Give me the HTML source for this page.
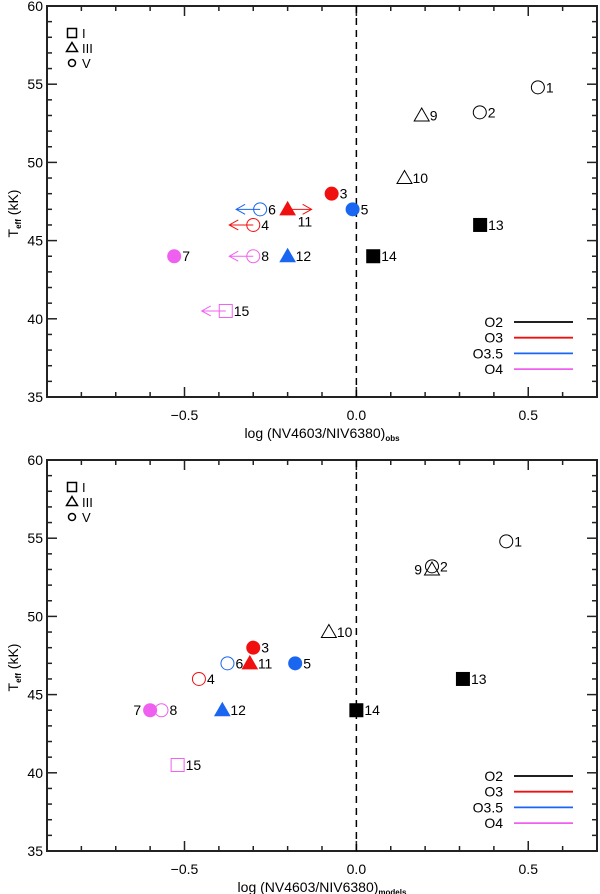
<!DOCTYPE html>
<html><head><meta charset="utf-8"><style>
body{margin:0;background:#fff;}
svg{display:block;font-family:"Liberation Sans",sans-serif;}
</style></head><body>
<svg id="c" width="600" height="894"></svg>
<script>
const starIds=[1,2,3,4,5,6,7,8,9,10,11,12,13,14,15];
const obsX=[0.528,0.359,-0.072,-0.30,-0.011,-0.28,-0.53,-0.30,0.19,0.14,-0.20,-0.20,0.36,0.049,-0.38];
const modX=[0.436,0.22,-0.30,-0.458,-0.178,-0.375,-0.60,-0.567,0.22,-0.08,-0.31,-0.39,0.31,0.0,-0.52];
const teffVals=[54.8,53.2,48,46,47,47,44,44,53,49,47,44,46,44,40.5];
const shapes=['c','c','c','c','c','c','c','c','t','t','t','t','s','s','s'];
const filled=[0,0,1,0,1,0,1,0,0,0,1,1,1,1,0];
const sptype=['O2','O2','O3','O3','O3.5','O3.5','O4','O4','O2','O2','O3','O3.5','O2','O2','O4'];
const obsArrow=[0,0,0,-1,0,-1,0,-1,0,0,1,0,0,0,-1];
const xTickLabels=['-0.5','0.0','0.5'];
const yTickLabels=[35,40,45,50,55,60];
const legendTypes=['O2','O3','O3.5','O4'];
const colors={'O2':'#000','O3':'#f01010','O3.5':'#1a66f0','O4':'#f060f0'};
const NS='http://www.w3.org/2000/svg';
const svg=document.getElementById('c');
function mk(tag,attrs,parent){const e=document.createElementNS(NS,tag);for(const k in attrs)e.setAttribute(k,attrs[k]);(parent||svg).appendChild(e);return e;}
const L=47,R=597,X0=-0.9,X1=0.7;
function sx(v){return L+(v-X0)/(X1-X0)*(R-L);}
function panel(off,xs,arrows,sub,labelPos){
  const T=6+off,B=397+off;
  function sy(v){return B-(v-35)/25*(B-T);}
  const g=mk('g',{});
  
  
  const fr=mk('rect',{x:L,y:T,width:R-L,height:B-T,fill:'none',stroke:'#222','stroke-width':2},g);
  
  for(let i=-8;i<=6;i++){const v=i/10;const x=sx(v);const maj=(i%5===0);const len=maj?10:5;
    mk('line',{x1:x,x2:x,y1:B,y2:B-len,stroke:'#222','stroke-width':1.5},g);
    mk('line',{x1:x,x2:x,y1:T,y2:T+len,stroke:'#222','stroke-width':1.5},g);}
  xTickLabels.forEach(s=>{const t=mk('text',{x:sx(parseFloat(s)),y:B+23,'text-anchor':'middle','font-size':14},g);t.textContent=s.replace('-','\u2212');
    });
  for(let v=36;v<60;v++){const y=sy(v);const len=(v%5===0)?10:5;
    mk('line',{x1:L,x2:L+len,y1:y,y2:y,stroke:'#222','stroke-width':1.5},g);
    mk('line',{x1:R,x2:R-len,y1:y,y2:y,stroke:'#222','stroke-width':1.5},g);}
  yTickLabels.forEach(v=>{const t=mk('text',{x:L-4,y:sy(v)+5,'text-anchor':'end','font-size':14},g);t.textContent=v;
    });
  const zx=sx(0);
  const dl=mk('line',{x1:zx,x2:zx,y1:T,y2:B,stroke:'#000','stroke-width':1.5,'stroke-dasharray':'7,5'},g);
  
  const xt=mk('text',{x:322,y:B+41,'text-anchor':'middle','font-size':14},g);
  xt.innerHTML='log (NV4603/NIV6380)<tspan font-size="8" dy="3" font-weight="bold">'+sub+'</tspan>';
  
  const yt=mk('text',{x:0,y:0,'text-anchor':'middle','font-size':14,transform:`translate(18,${(T+B)/2+12}) rotate(-90)`},g);
  yt.innerHTML='T<tspan font-size="8" dy="3" font-weight="bold">eff</tspan><tspan dy="-3"> (kK)</tspan>';
  
  const lc=['s','t','c'],ll=['I','III','V'];
  lc.forEach((s,i)=>{const y=33+off+i*15;drawMarker(g,72,y,s,false,'#000',s==='c'?3.5:4.5,1.5);
    const t=mk('text',{x:82,y:y+5,'font-size':13},g);t.textContent=ll[i];
    });
  legendTypes.forEach((s,i)=>{const y=322+off+i*15.7;
    const t=mk('text',{x:503,y:y+5,'text-anchor':'end','font-size':14},g);t.textContent=s;
    
    mk('line',{x1:514,x2:573,y1:y,y2:y,stroke:colors[s],'stroke-width':1.8},g);});
  starIds.forEach((id,i)=>{const x=sx(xs[i]),y=sy(teffVals[i]),c=colors[sptype[i]];
    const a=arrows?arrows[i]:0;
    if(a){const x2=x+a*24;mk('path',{d:`M${x} ${y}H${x2}M${x2-a*9} ${y-5}L${x2} ${y}L${x2-a*9} ${y+5}`,stroke:c,fill:'none','stroke-width':1},g);}
    const m=drawMarker(g,x,y,shapes[i],filled[i],c,6.5,1);
    
    const p=labelPos(id);
    const t=mk('text',{x:x+p[0],y:y+p[1]+5,'font-size':14,'text-anchor':p[2]||'start'},g);t.textContent=id;
    });
}
function drawMarker(g,x,y,s,f,c,r,sw){let e;
  if(s==='c')e=mk('circle',{cx:x,cy:y,r:r},g);
  else if(s==='s')e=mk('rect',{x:x-r,y:y-r,width:2*r,height:2*r},g);
  else e=mk('path',{d:`M${x} ${y-r-1}L${x+r+1} ${y+r-1}L${x-r-1} ${y+r-1}Z`},g);
  e.setAttribute('fill',f?c:'none');e.setAttribute('stroke',c);e.setAttribute('stroke-width',sw);
  return e;}
panel(0,obsX,obsArrow,'obs',id=>id===11?[10,12]:[8,0]);
panel(454,modX,null,'models',id=>id===9?[-10,0,'end']:id===7?[-9,0,'end']:[8,0]);
</script>
</body></html>
